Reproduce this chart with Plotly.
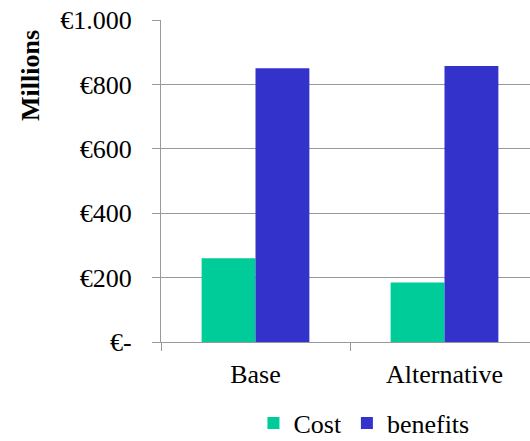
import plotly.graph_objects as go

# Scenario totals, in millions of euro
categories = ["Base", "Alternative"]
cost = [260, 185]
benefits = [850, 857]

# Y axis tick values and their euro-formatted labels
y_tickvals = [0, 200, 400, 600, 800, 1000]
y_ticktext = ["€-", "€200", "€400", "€600", "€800", "€1.000"]

FONT = "Liberation Serif"
SIZE = 26
GRID = "#999999"
INK = "#000000"

fig = go.Figure()
fig.add_trace(go.Bar(name="Cost", x=categories, y=cost, marker_color="#00CC99"))
fig.add_trace(go.Bar(name="benefits", x=categories, y=benefits, marker_color="#3333CC"))

fig.update_layout(
    template="none",
    width=530, height=441,
    margin=dict(l=161, r=0, t=20, b=99, autoexpand=False),
    font=dict(family=FONT, size=SIZE, color=INK),
    barmode="group", bargap=0.43, bargroupgap=0,
    legend=dict(
        orientation="h", x=0.55, xanchor="center",
        yref="container", y=(441 - 423) / 441, yanchor="middle",
        font=dict(family=FONT, size=SIZE, color=INK),
    ),
    xaxis=dict(
        type="category", range=[-0.5, -0.5 + 369 / 189],
        tickson="boundaries", ticks="outside", ticklen=8,
        tickcolor=GRID, tickwidth=1.3,
        showline=True, linecolor=GRID, linewidth=1.3,
        showgrid=False, zeroline=False,
        ticklabelstandoff=9,
        tickfont=dict(family=FONT, size=SIZE, color=INK),
    ),
    yaxis=dict(
        range=[0, 1000], tickvals=y_tickvals, ticktext=y_ticktext,
        ticks="outside", ticklen=8, tickcolor=GRID, tickwidth=1.3,
        showline=True, linecolor=GRID, linewidth=1.3,
        showgrid=True, gridcolor=GRID, gridwidth=1.3,
        zeroline=False, ticklabelstandoff=15,
        tickfont=dict(family=FONT, size=SIZE, color=INK),
    ),
)

fig.add_annotation(
    text="<b>Millions</b>", textangle=-90,
    xref="paper", yref="paper", x=(30 - 161) / 369, y=(342 - 76) / 322,
    showarrow=False, font=dict(family=FONT, size=SIZE, color=INK),
    xanchor="center", yanchor="middle",
)

fig.write_html("out.html")
